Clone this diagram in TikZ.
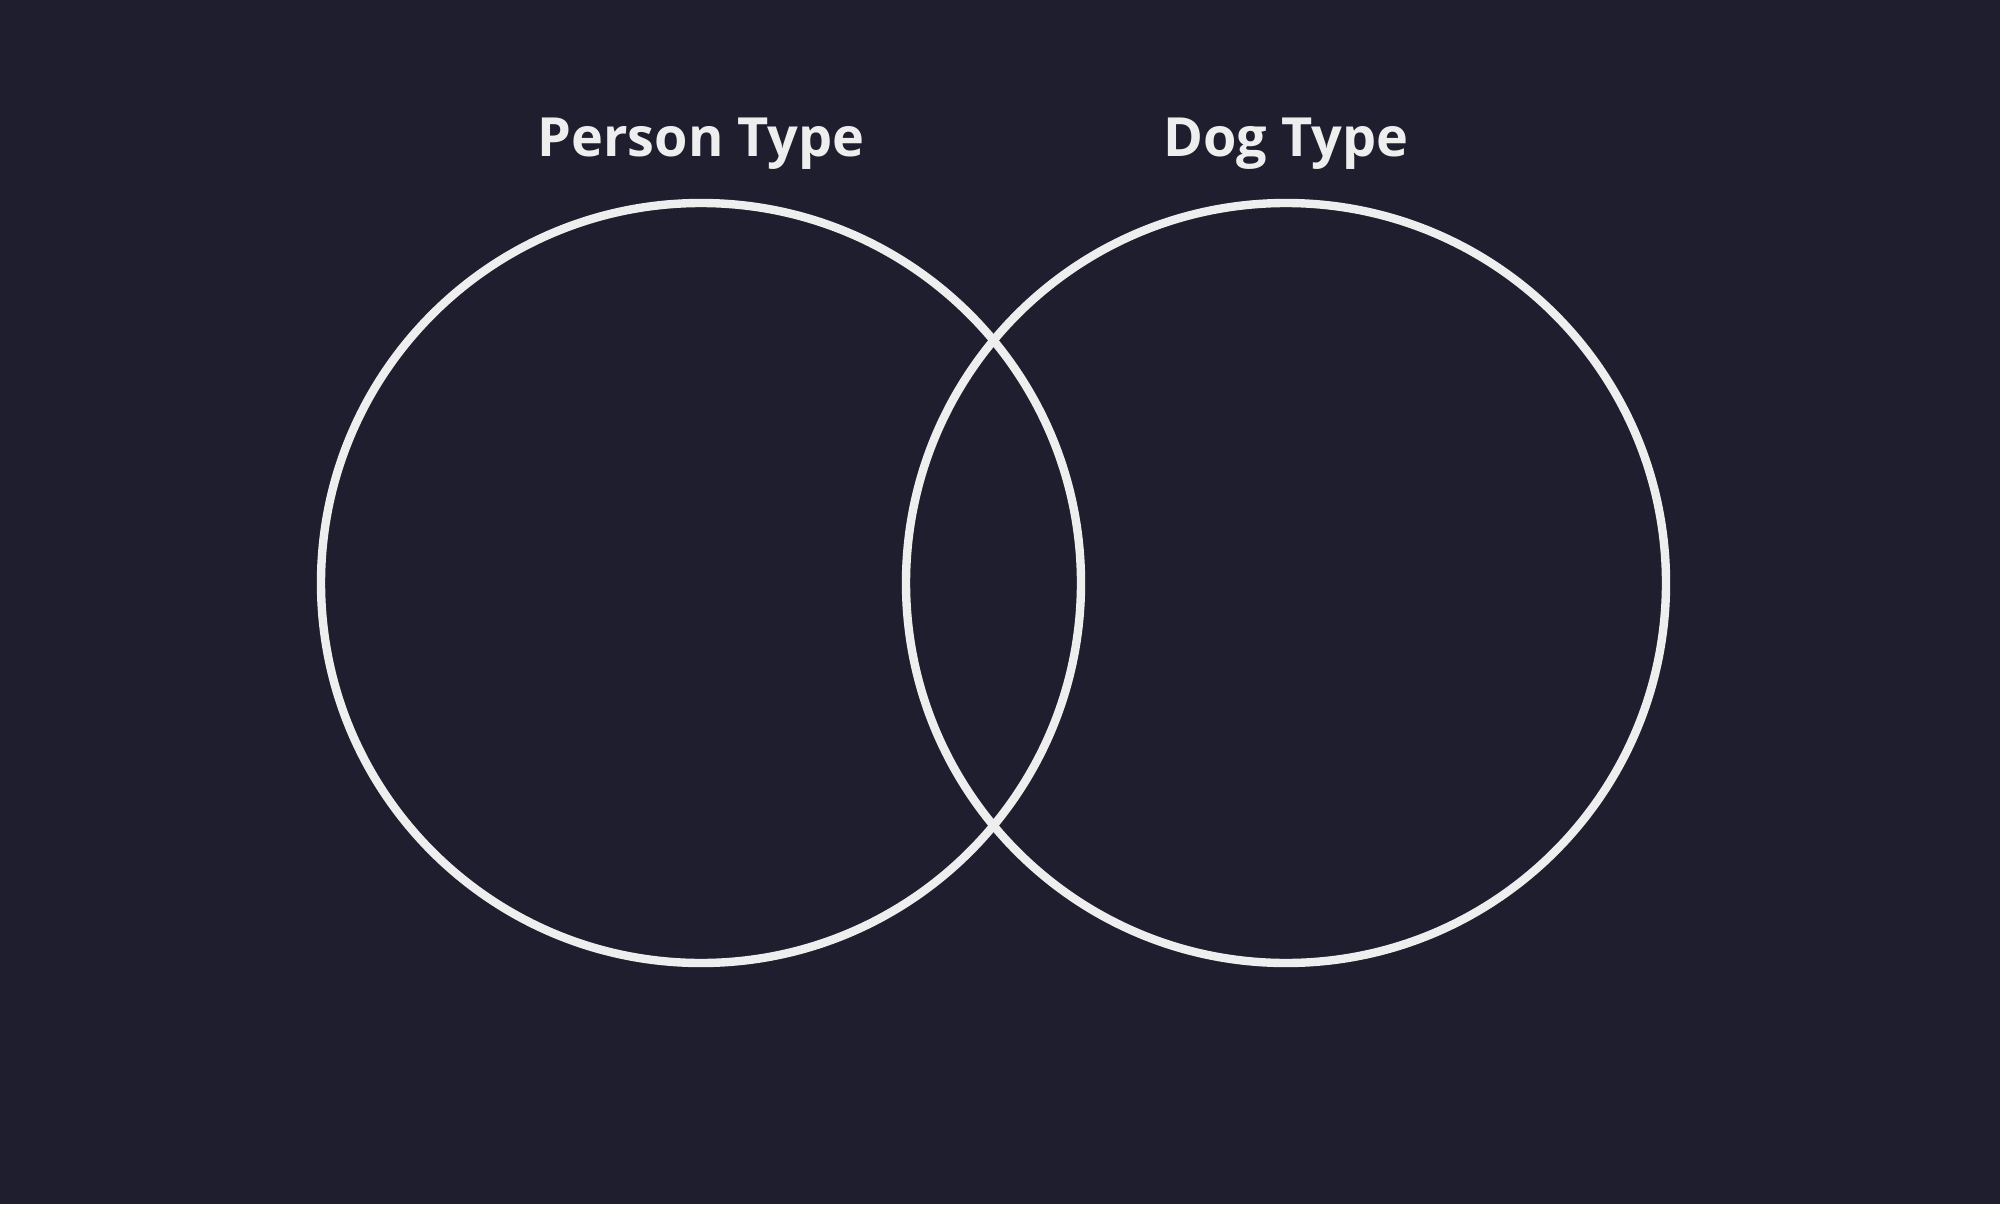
\documentclass[tikz,border=0pt]{standalone}
\usepackage{fontspec}
\setmainfont{Open Sans}
\definecolor{bg}{HTML}{1E1E2E}
\definecolor{fg}{HTML}{EEEEEE}
\begin{document}
\begin{tikzpicture}[x=0.5pt,y=-0.5pt,
  ring/.style={draw=fg,line width=4.2pt},
  title/.style={text=fg,font=\fontsize{27}{32}\selectfont\bfseries,anchor=base,inner sep=0pt}]
\fill[bg] (0,0) rectangle (2000,1204);
\useasboundingbox (0,0) rectangle (2000,1204);
\draw[ring] (701,583) circle[radius=380];
\node[circle,minimum size=380pt,inner sep=0pt] (person) at (701,583) {};
\draw[ring] (1286,583) circle[radius=380];
\node[circle,minimum size=380pt,inner sep=0pt] (dog) at (1286,583) {};
\node[title] (pt) at (701,156) {Person Type};
\node[title] (dt) at (1286,156) {Dog Type};
\end{tikzpicture}
\end{document}
